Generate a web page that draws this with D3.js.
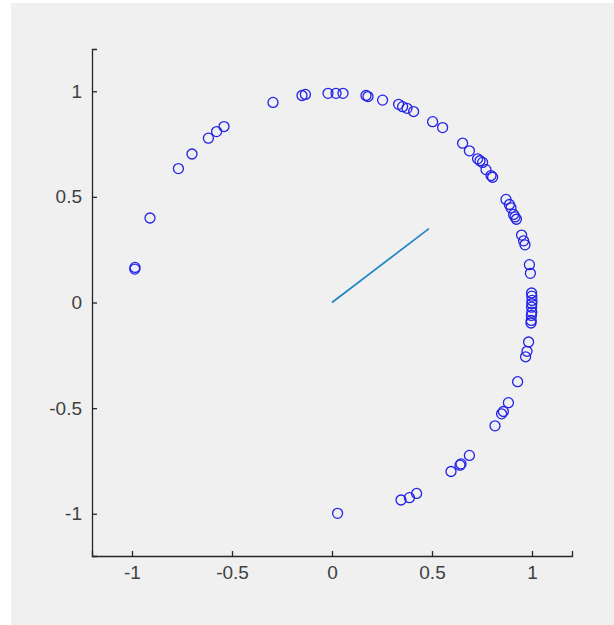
<!DOCTYPE html>
<html>
<head>
<meta charset="utf-8">
<script src="https://cdn.jsdelivr.net/npm/d3@7"></script>
<style>
  html, body { margin: 0; padding: 0; background: #ffffff; }
  #chart { width: 614px; height: 625px; }
</style>
</head>
<body>
<div id="chart"></div>
<script>
  "use strict";

  /* <!-- Data --> */
  var pointX = [-0.91, -0.768, -0.70, -0.618, -0.577, -0.54, -0.295, -0.15, -0.133,
    -0.02, 0.02, 0.055, 0.17, 0.18, 0.253, 0.333, 0.353, 0.375, 0.408,
    0.503, 0.553, 0.653, 0.687, 0.728, 0.74, 0.753, 0.77, 0.795, 0.803,
    0.87, 0.887, 0.895, 0.908, 0.915, 0.922, 0.948, 0.958, 0.965, 0.987, 0.992,
    0.998, 0.999, 1.0, 0.999, 0.998, 0.999, 0.997, 0.996, 0.995,
    0.983, 0.975, 0.968, 0.928, 0.882, 0.857, 0.848, 0.815, 0.687,
    0.645, 0.64, 0.595, 0.423, 0.387, 0.345, 0.028, -0.985, -0.986];
  var pointY = [0.40, 0.634, 0.703, 0.778, 0.809, 0.833, 0.947, 0.98, 0.985,
    0.99, 0.99, 0.99, 0.98, 0.975, 0.958, 0.938, 0.927, 0.919, 0.904,
    0.856, 0.828, 0.754, 0.718, 0.68, 0.671, 0.663, 0.629, 0.601, 0.593,
    0.488, 0.464, 0.448, 0.417, 0.405, 0.394, 0.319, 0.292, 0.273, 0.179, 0.138,
    0.045, 0.03, 0.01, -0.006, -0.022, -0.046, -0.061, -0.085, -0.097,
    -0.187, -0.231, -0.257, -0.375, -0.474, -0.516, -0.527, -0.584, -0.724,
    -0.764, -0.77, -0.80, -0.904, -0.924, -0.935, -0.998, 0.166, 0.158];
  var lineX = [0, 0.485];
  var lineY = [0, 0.35];
  var xTicks = [-1, -0.5, 0, 0.5, 1];
  var yTicks = [-1, -0.5, 0, 0.5, 1];

  /* <!-- Layout --> */
  var width = 614, height = 625,
    margin = { top: 49, right: 42, bottom: 69, left: 92 },
    innerWidth = 480, innerHeight = 507;

  var svg = d3.select("#chart").append("svg")
    .attr("width", width).attr("height", height);

  svg.append("rect").attr("x", 11).attr("y", 3)
    .attr("width", width - 11).attr("height", height - 3)
    .attr("fill", "#f0f0f0");

  var g = svg.append("g").attr("transform", `translate(${margin.left},${margin.top})`);

  var x = d3.scaleLinear().domain([-1.2, 1.2]).range([0, innerWidth]),
    y = d3.scaleLinear().domain([-1.2, 1.2]).range([innerHeight, 0]);

  var fmt = d => d3.format("")(d).replace("−", "-");

  /* <!-- Axes --> */
  var xAxis = g.append("g")
    .attr("transform", `translate(0,${innerHeight})`)
    .call(d3.axisBottom(x).tickValues(xTicks).tickSize(-5).tickPadding(10).tickFormat(fmt));

  var yAxis = g.append("g")
    .call(d3.axisLeft(y).tickValues(yTicks).tickSize(-5).tickPadding(10).tickFormat(fmt));

  [xAxis, yAxis].forEach(a => {
    a.select(".domain").attr("stroke", "#262626").attr("stroke-width", 1.3);
    a.selectAll(".tick line").attr("stroke", "#262626").attr("stroke-width", 1.3);
    a.selectAll(".tick text")
      .attr("fill", "#404040")
      .style("font-family", "'Liberation Sans', Helvetica, Arial, sans-serif")
      .style("font-size", "19px");
  });
  xAxis.selectAll(".tick text").attr("dy", "0.71em");

  /* <!-- Line --> */
  g.append("path")
    .datum(d3.zip(lineX, lineY))
    .attr("d", d3.line().x(d => x(d[0])).y(d => y(d[1])))
    .attr("fill", "none")
    .attr("stroke", "#1f86c4")
    .attr("stroke-width", 1.7);

  /* <!-- Points --> */
  g.selectAll(".pt")
    .data(d3.zip(pointX, pointY))
    .enter()
    .append("circle")
    .attr("class", "pt")
    .attr("cx", d => x(d[0]))
    .attr("cy", d => y(d[1]))
    .attr("r", 5)
    .attr("fill", "none")
    .attr("stroke", "#2222e8")
    .attr("stroke-width", 1.3);
</script>
</body>
</html>
